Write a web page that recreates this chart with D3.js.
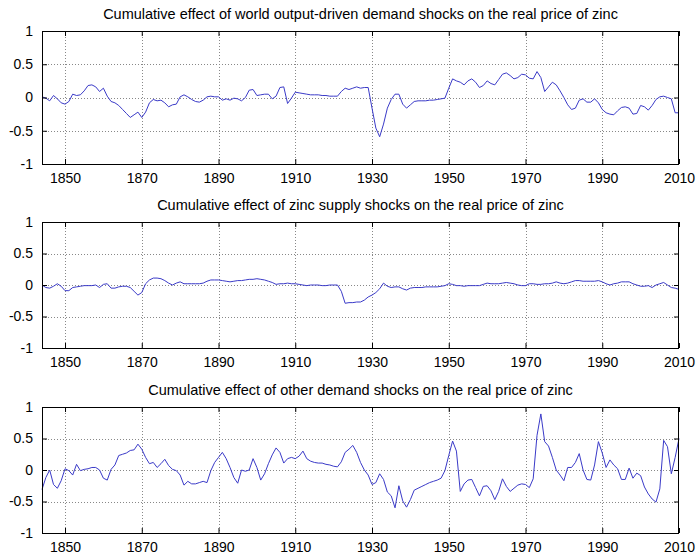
<!DOCTYPE html>
<html><head><meta charset="utf-8">
<script src="https://cdn.jsdelivr.net/npm/d3@7"></script>
<style>body{margin:0;background:#fff;overflow:hidden}</style>
</head><body><svg id="c" width="699" height="558"></svg>
<script>
const years = [1844,1845,1846,1847,1848,1849,
1850,1851,1852,1853,1854,1855,1856,1857,1858,1859,
1860,1861,1862,1863,1864,1865,1866,1867,1868,1869,
1870,1871,1872,1873,1874,1875,1876,1877,1878,1879,
1880,1881,1882,1883,1884,1885,1886,1887,1888,1889,
1890,1891,1892,1893,1894,1895,1896,1897,1898,1899,
1900,1901,1902,1903,1904,1905,1906,1907,1908,1909,
1910,1911,1912,1913,1914,1915,1916,1917,1918,1919,
1920,1921,1922,1923,1924,1925,1926,1927,1928,1929,
1930,1931,1932,1933,1934,1935,1936,1937,1938,1939,
1940,1941,1942,1943,1944,1945,1946,1947,1948,1949,
1950,1951,1952,1953,1954,1955,1956,1957,1958,1959,
1960,1961,1962,1963,1964,1965,1966,1967,1968,1969,
1970,1971,1972,1973,1974,1975,1976,1977,1978,1979,
1980,1981,1982,1983,1984,1985,1986,1987,1988,1989,
1990,1991,1992,1993,1994,1995,1996,1997,1998,1999,
2000,2001,2002,2003,2004,2005,2006,2007,2008,2009,2010];

const worldDemand = [0.01,-0.01,-0.05,0.03,-0.02,-0.08,
-0.10,-0.06,0.05,0.03,0.04,0.10,0.18,0.19,0.16,0.09,
0.14,0.02,-0.06,-0.08,-0.12,-0.18,-0.24,-0.30,-0.26,-0.22,
-0.30,-0.22,-0.08,-0.03,-0.05,-0.04,-0.08,-0.14,-0.11,-0.10,
0.01,0.04,0.01,-0.03,-0.06,-0.07,-0.04,0.01,0.02,0.01,
0.01,-0.04,-0.02,-0.04,-0.01,-0.02,-0.05,0.00,0.11,0.12,
0.03,0.04,0.05,0.05,-0.02,0.02,0.15,0.16,-0.09,-0.01,
0.08,0.07,0.06,0.05,0.04,0.04,0.04,0.03,0.03,0.02,
0.02,0.02,0.09,0.14,0.12,0.14,0.16,0.14,0.15,0.15,
-0.16,-0.46,-0.59,-0.40,-0.16,-0.03,0.05,0.05,-0.10,-0.16,
-0.11,-0.06,-0.05,-0.05,-0.05,-0.04,-0.04,-0.03,-0.02,-0.01,
0.14,0.28,0.25,0.23,0.19,0.25,0.28,0.23,0.15,0.18,
0.25,0.21,0.19,0.27,0.35,0.37,0.33,0.28,0.30,0.35,
0.34,0.29,0.28,0.39,0.30,0.09,0.16,0.23,0.19,0.10,
0.00,-0.11,-0.18,-0.16,-0.04,-0.02,-0.07,-0.07,-0.02,-0.08,
-0.18,-0.23,-0.25,-0.26,-0.20,-0.15,-0.14,-0.16,-0.25,-0.24,
-0.12,-0.14,-0.19,-0.12,-0.03,0.01,0.02,0.00,-0.02,-0.23,-0.23];

const zincSupply = [0.00,-0.04,-0.05,-0.02,0.02,-0.02,
-0.09,-0.09,-0.04,-0.03,-0.02,-0.01,-0.01,-0.01,0.00,-0.04,
0.01,0.02,-0.05,-0.05,-0.03,-0.02,-0.02,-0.04,-0.10,-0.16,
-0.12,0.02,0.08,0.11,0.11,0.10,0.07,0.03,0.00,0.03,
0.05,0.02,0.02,0.02,0.02,0.02,0.03,0.06,0.08,0.08,
0.08,0.07,0.06,0.05,0.06,0.07,0.07,0.08,0.09,0.09,
0.10,0.09,0.08,0.06,0.04,0.01,0.02,0.02,0.03,0.02,
0.02,0.01,0.00,-0.01,0.00,0.00,0.00,-0.01,-0.01,0.00,
0.00,0.00,-0.10,-0.29,-0.28,-0.28,-0.27,-0.27,-0.24,-0.19,
-0.16,-0.12,-0.06,0.03,-0.02,-0.04,-0.03,-0.03,-0.06,-0.08,
-0.05,-0.04,-0.04,-0.04,-0.03,-0.03,-0.03,-0.03,-0.02,-0.01,
0.02,0.01,-0.01,-0.01,-0.02,-0.01,-0.01,-0.01,-0.01,0.01,
0.03,0.02,0.02,0.02,0.03,0.04,0.03,0.02,0.00,-0.01,
-0.01,0.02,0.02,0.01,0.01,0.02,0.02,0.03,0.05,0.03,
0.02,0.03,0.05,0.07,0.07,0.06,0.06,0.06,0.06,0.07,
0.05,0.02,0.00,0.02,0.03,0.05,0.05,0.05,0.02,0.00,
-0.02,-0.02,-0.01,-0.04,0.00,0.02,0.04,0.00,-0.04,-0.05,-0.07];

const otherDemand = [-0.31,-0.12,0.00,-0.23,-0.29,-0.17,
0.02,-0.01,-0.08,0.09,-0.01,0.01,0.02,0.04,0.04,0.00,
-0.13,-0.16,0.01,0.08,0.23,0.25,0.27,0.31,0.32,0.41,
0.33,0.20,0.10,0.12,0.04,0.10,0.17,0.07,0.01,-0.01,
-0.08,-0.24,-0.18,-0.22,-0.22,-0.20,-0.18,-0.20,-0.01,0.12,
0.20,0.28,0.18,0.04,-0.12,-0.21,0.00,-0.02,0.00,0.18,
0.04,-0.16,-0.06,0.10,0.24,0.35,0.28,0.11,0.18,0.20,
0.18,0.22,0.30,0.18,0.14,0.12,0.11,0.11,0.09,0.08,
0.06,0.05,0.13,0.28,0.33,0.39,0.28,0.12,0.00,-0.08,
-0.23,-0.20,-0.06,-0.15,-0.35,-0.41,-0.60,-0.25,-0.49,-0.59,
-0.47,-0.32,-0.29,-0.26,-0.23,-0.20,-0.18,-0.16,-0.13,-0.01,
0.23,0.46,0.30,-0.34,-0.22,-0.16,-0.15,-0.28,-0.41,-0.26,
-0.25,-0.33,-0.47,-0.34,-0.14,-0.26,-0.34,-0.29,-0.24,-0.22,
-0.23,-0.28,-0.14,0.55,0.89,0.45,0.38,0.20,0.00,-0.08,
-0.17,0.04,0.04,0.12,0.26,0.00,-0.15,-0.16,0.08,0.45,
0.27,0.04,0.16,0.08,0.02,-0.15,-0.15,0.03,-0.13,-0.05,
-0.09,-0.27,-0.38,-0.46,-0.51,-0.30,0.47,0.37,-0.06,0.20,0.50];

const titles = [
  "Cumulative effect of world output-driven demand shocks on the real price of zinc",
  "Cumulative effect of zinc supply shocks on the real price of zinc",
  "Cumulative effect of other demand shocks on the real price of zinc"
];
const xTicks = [1850,1870,1890,1910,1930,1950,1970,1990,2010];
const yTicks = [-1,-0.5,0,0.5,1];
const yTickLabels = ["-1","-0.5","0","0.5","1"];

const seriesList = [worldDemand, zincSupply, otherDemand];
const panels = [{top:31,bottom:164},{top:222,bottom:348},{top:407,bottom:533}];
const left = 42, right = 679;
const font = "'Liberation Sans', Arial, Helvetica, sans-serif";

const svg = d3.select("#c");
svg.append("rect").attr("width",699).attr("height",558).attr("fill","#fff");

const x = d3.scaleLinear().domain([1844, 2010]).range([left, right]);

panels.forEach((p, i) => {
  const y = d3.scaleLinear().domain([-1, 1]).range([p.bottom, p.top]);
  const g = svg.append("g");

  // grid
  g.append("g").selectAll("line").data(xTicks.filter(t => t < 2010)).join("line")
    .attr("x1", d => Math.round(x(d)) + 0.5).attr("x2", d => Math.round(x(d)) + 0.5)
    .attr("y1", p.top).attr("y2", p.bottom)
    .attr("stroke", "#888").attr("stroke-width", 1).attr("stroke-dasharray", "1,2");
  g.append("g").selectAll("line").data(yTicks.filter(t => t > -1 && t < 1)).join("line")
    .attr("y1", d => Math.round(y(d)) + 0.5).attr("y2", d => Math.round(y(d)) + 0.5)
    .attr("x1", left).attr("x2", right)
    .attr("stroke", "#888").attr("stroke-width", 1).attr("stroke-dasharray", "1,2");

  // data line
  const line = d3.line().x((d, k) => x(years[k])).y(d => y(d));
  g.append("path").datum(seriesList[i]).attr("d", line)
    .attr("fill", "none").attr("stroke", "#3a3ac8").attr("stroke-width", 1);

  // axes (MATLAB style inward ticks, all sides)
  const tl = 5;
  const xb = d3.axisBottom(x).tickValues(xTicks).tickFormat(d3.format("d")).tickSizeInner(-tl).tickSizeOuter(0).tickPadding(9);
  const xt = d3.axisTop(x).tickValues(xTicks).tickFormat("").tickSizeInner(-tl).tickSizeOuter(0);
  const yl = d3.axisLeft(y).tickValues(yTicks).tickFormat((d, k) => yTickLabels[k]).tickSizeInner(-tl).tickSizeOuter(0).tickPadding(9);
  const yr = d3.axisRight(y).tickValues(yTicks).tickFormat("").tickSizeInner(-tl).tickSizeOuter(0);

  const ax = [
    g.append("g").attr("transform", `translate(0,${p.bottom})`).call(xb),
    g.append("g").attr("transform", `translate(0,${p.top})`).call(xt),
    g.append("g").attr("transform", `translate(${left},0)`).call(yl),
    g.append("g").attr("transform", `translate(${right},0)`).call(yr)
  ];
  ax.forEach(a => {
    a.select(".domain").remove();
    a.selectAll("line").attr("stroke", "#000");
    a.selectAll("text").attr("font-family", font).attr("font-size", 14).attr("fill", "#000");
  });

  // box
  g.append("rect").attr("x", left + 0.5).attr("y", p.top + 0.5)
    .attr("width", right - left - 1).attr("height", p.bottom - p.top)
    .attr("fill", "none").attr("stroke", "#000").attr("stroke-width", 1);

  // title
  g.append("text").attr("x", (left + right) / 2).attr("y", p.top - 12)
    .attr("text-anchor", "middle").attr("font-family", font).attr("font-size", 14.5)
    .attr("fill", "#000").text(titles[i]);
});
</script>
</body></html>
